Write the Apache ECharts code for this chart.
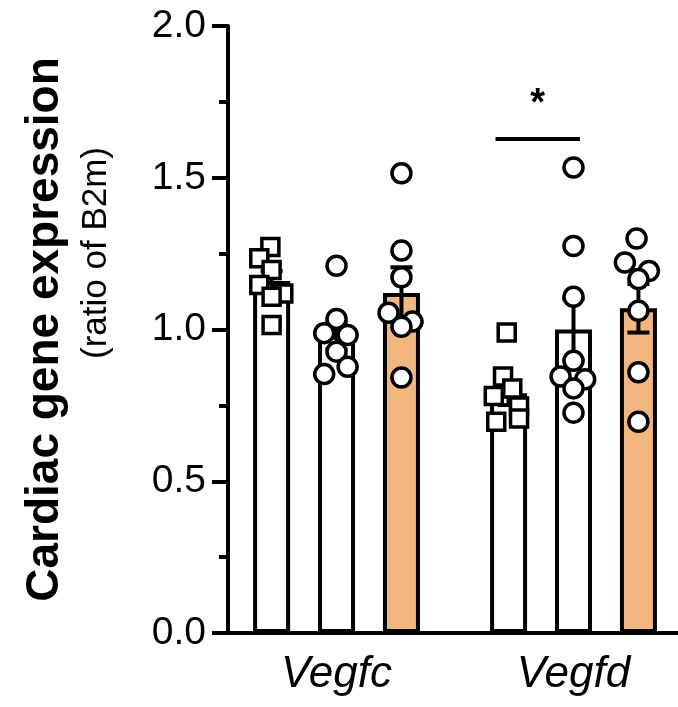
<!DOCTYPE html>
<html>
<head>
<meta charset="utf-8">
<title>Cardiac gene expression</title>
<script src="https://cdn.jsdelivr.net/npm/echarts@6.0.0/dist/echarts.min.js"></script>
<style>
	html, body { margin: 0; padding: 0; background: #fff; }
	#chart { width: 678px; height: 707px; }
</style>
</head>
<body>
<div id="chart"></div>
<script>
// genes on the x axis
const genes = ['Vegfc', 'Vegfd']
// three groups per gene (1st one drawn with squares)
const groups = ['Group 1', 'Group 2', 'Group 3']

// bar height (mean) and SEM for each group
const meanVegfc = [1.16, 0.98, 1.12]
const meanVegfd = [0.79, 1.0, 1.07]
const semVegfc = [0.033, 0.045, 0.085]
const semVegfd = [0.039, 0.1, 0.08]

// individual values
const vegfcG1 = [1.272, 1.235, 1.196, 1.147, 1.119, 1.108, 1.015]
const vegfcG2 = [1.21, 1.035, 0.988, 0.982, 0.927, 0.877, 0.853]
const vegfcG3 = [1.515, 1.26, 1.172, 1.055, 1.026, 1.009, 0.842]
const vegfdG1 = [0.99, 0.845, 0.806, 0.781, 0.746, 0.707, 0.696]
const vegfdG2 = [1.534, 1.275, 1.108, 0.897, 0.845, 0.836, 0.806, 0.726]
const vegfdG3 = [1.3, 1.221, 1.193, 1.166, 1.062, 0.859, 0.696]

// y axis ticks
const yMin = 0
const yMax = 2
const yStep = 0.5

// significance: Vegfd group 1 vs group 2
const sigLabel = '*'
const sigLevel = 1.628
const sigStarLevel = 1.74

// ---- layout (not data) ----
const FONT = 'Liberation Sans, Arial, sans-serif'
const GROUP_X = [1, 2]
const BAR_OFFSET = 0.274
const JITTER = 0.052
const LW = 4
const fills = ['#ffffff', '#ffffff', '#f1b77e']
// horizontal spread of the dots, in dot widths
const jitVegfc = [
	[-0.1, -1, 0, -1, 0.95, 0, 0],
	[0, 0, -1, 0.9, 0, 0.9, -1],
	[0, 0, 0, -1.05, 0.9, 0, 0]
]
const jitVegfd = [
	[-0.15, -0.45, 0.3, -1.2, 0.85, 0.85, -1],
	[0, 0, 0, 0, -1.05, 0.95, 0, 0],
	[-0.15, -1.1, 0.85, 0, 0, 0, 0]
]

const means = [meanVegfc, meanVegfd]
const sems = [semVegfc, semVegfd]
const points = [[vegfcG1, vegfcG2, vegfcG3], [vegfdG1, vegfdG2, vegfdG3]]
const jits = [jitVegfc, jitVegfd]

function barX(g, k) {
	return GROUP_X[g] + (k - 1) * BAR_OFFSET
}

let barData = []
let errData = []
let squareData = []
let circleData = []
genes.forEach((gene, g) => {
	groups.forEach((grp, k) => {
		let x = barX(g, k)
		barData.push({ value: [x, means[g][k]], itemStyle: { color: fills[k] } })
		errData.push([x, means[g][k], sems[g][k]])
		points[g][k].forEach((v, i) => {
			let p = [x + jits[g][k][i] * JITTER, v]
			if (k === 0) squareData.push(p)
			else circleData.push(p)
		})
	})
})

const sigStart = barX(1, 0) - 0.055
const sigEnd = barX(1, 1) + 0.027

const chart = echarts.init(document.getElementById('chart'), null, { renderer: 'canvas' })
chart.setOption({
	animation: false,
	backgroundColor: '#fff',
	textStyle: { fontFamily: FONT },
	grid: { left: 228, right: 0, top: 26, bottom: 74 },
	xAxis: {
		type: 'value',
		min: 0.542,
		max: 2.441,
		axisLine: { show: true, lineStyle: { color: '#000', width: LW } },
		axisTick: { show: false },
		splitLine: { show: false },
		axisLabel: {
			customValues: GROUP_X,
			formatter: (v) => genes[GROUP_X.indexOf(v)],
			fontSize: 44,
			fontStyle: 'italic',
			fontFamily: FONT,
			color: '#000',
			margin: 20
		}
	},
	yAxis: {
		type: 'value',
		min: yMin,
		max: yMax,
		interval: yStep,
		name: 'Cardiac gene expression',
		nameLocation: 'middle',
		nameRotate: 90,
		nameGap: 160,
		nameTextStyle: { fontSize: 46, fontWeight: 'bold', color: '#000', fontFamily: FONT },
		axisLine: { show: true, lineStyle: { color: '#000', width: LW } },
		axisTick: { show: true, length: 16, lineStyle: { color: '#000', width: LW } },
		minorTick: { show: true, splitNumber: 2, length: 9, lineStyle: { color: '#000', width: LW } },
		splitLine: { show: false },
		axisLabel: {
			formatter: (v) => v.toFixed(1),
			fontSize: 39,
			fontFamily: FONT,
			color: '#000',
			margin: 22
		}
	},
	graphic: [
		{
			type: 'text',
			x: 96,
			y: 253,
			rotation: Math.PI / 2,
			style: {
				text: '(ratio of B2m)',
				fontSize: 35,
				fontFamily: FONT,
				fill: '#000',
				align: 'center',
				verticalAlign: 'middle'
			}
		}
	],
	series: [
		{
			type: 'bar',
			data: barData,
			barWidth: 37,
			z: 1,
			silent: true,
			itemStyle: { borderColor: '#000', borderWidth: LW }
		},
		{
			// error bars (mean +/- SEM)
			type: 'custom',
			data: errData,
			z: 3,
			silent: true,
			encode: { x: 0, y: 1 },
			renderItem: (params, api) => {
				let x = api.value(0)
				let m = api.value(1)
				let s = api.value(2)
				let top = api.coord([x, m + s])
				let bot = api.coord([x, m - s])
				let half = 11
				let st = { stroke: '#000', lineWidth: LW }
				return {
					type: 'group',
					children: [
						{ type: 'line', shape: { x1: top[0], y1: top[1], x2: bot[0], y2: bot[1] }, style: st },
						{ type: 'line', shape: { x1: top[0] - half, y1: top[1], x2: top[0] + half, y2: top[1] }, style: st },
						{ type: 'line', shape: { x1: bot[0] - half, y1: bot[1], x2: bot[0] + half, y2: bot[1] }, style: st }
					]
				}
			}
		},
		{
			type: 'scatter',
			data: squareData,
			symbol: 'rect',
			symbolSize: 17,
			z: 4,
			silent: true,
			itemStyle: { color: '#fff', borderColor: '#000', borderWidth: 3.5, opacity: 1 }
		},
		{
			type: 'scatter',
			data: circleData,
			symbol: 'circle',
			symbolSize: 19,
			z: 4,
			silent: true,
			itemStyle: { color: '#fff', borderColor: '#000', borderWidth: 3.5, opacity: 1 }
		},
		{
			type: 'line',
			data: [[sigStart, sigLevel], [sigEnd, sigLevel]],
			symbol: 'none',
			z: 4,
			silent: true,
			lineStyle: { color: '#000', width: LW }
		},
		{
			type: 'custom',
			data: [[(sigStart + sigEnd) / 2, sigStarLevel]],
			z: 4,
			silent: true,
			encode: { x: 0, y: 1 },
			renderItem: (params, api) => {
				let p = api.coord([api.value(0), api.value(1)])
				return {
					type: 'text',
					x: p[0],
					y: p[1],
					style: {
						text: sigLabel,
						fontSize: 38,
						fontWeight: 'bold',
						fontFamily: FONT,
						fill: '#000',
						align: 'center',
						verticalAlign: 'middle'
					}
				}
			}
		}
	]
})
</script>
</body>
</html>
